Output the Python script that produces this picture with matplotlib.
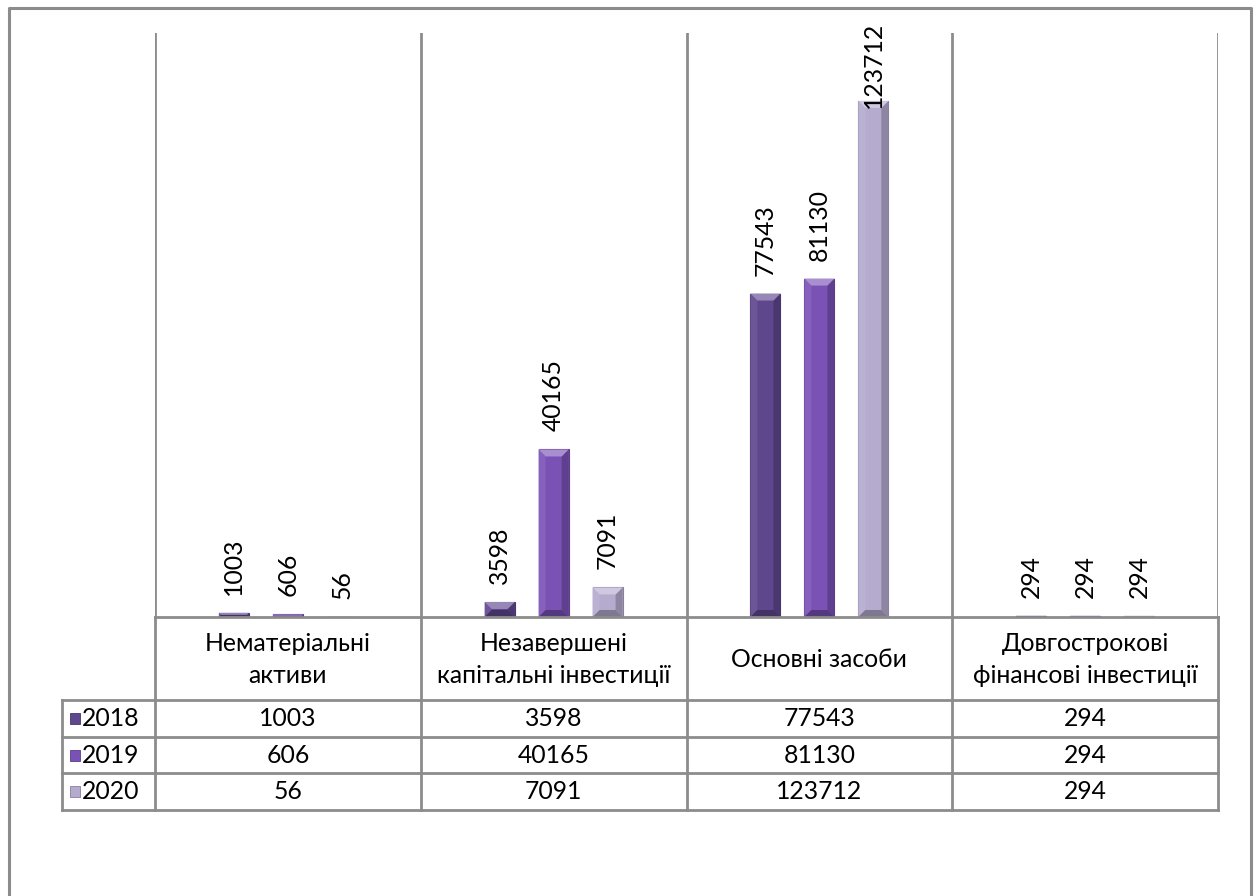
import numpy as np
import matplotlib.pyplot as plt
from matplotlib.patches import Polygon, Rectangle
from matplotlib.lines import Line2D
from matplotlib.colors import to_rgb

categories = ['Нематеріальні\nактиви', 'Незавершені\nкапітальні інвестиції',
              'Основні засоби', 'Довгострокові\nфінансові інвестиції']
years = ['2018', '2019', '2020']
v2018 = [1003, 3598, 77543, 294]
v2019 = [606, 40165, 81130, 294]
v2020 = [56, 7091, 123712, 294]
series = [v2018, v2019, v2020]
colors = ['#5f478e', '#7a52b6', '#b5abcf']

plt.rcParams['font.family'] = ['Lato', 'Open Sans', 'DejaVu Sans']
fs = 17.8

W, H = 1256, 896
fig = plt.figure(figsize=(W / 100, H / 100), dpi=100)


def px_rect(x0, y0, x1, y1):
    # pixel box (top-left origin) -> figure fraction
    return [x0 / W, 1 - y1 / H, (x1 - x0) / W, (y1 - y0) / H]


grid_c = '#8c8c8c'
ymax = 140000
plot_h = 617 - 33

ax = fig.add_axes(px_rect(155, 33, 1218, 617))
ax.set_xlim(-0.5, 3.5)
ax.set_ylim(0, ymax)
ax.axis('off')

n = len(categories)
for k in range(n + 1):
    ax.axvline(k - 0.5, color=grid_c, lw=2, zorder=0)


def shade(c, f):
    r = np.array(to_rgb(c))
    if f >= 1:
        return tuple(r + (1 - r) * (f - 1))
    return tuple(r * f)


bw = 0.113
offs = [-0.203, 0.0, 0.203]
# bevel depth: ~7 px
bx = 7 / 265.75
by = 7 * ymax / plot_h

for s, vals in enumerate(series):
    for i, v in enumerate(vals):
        xc = i + offs[s]
        x0, x1 = xc - bw / 2, xc + bw / 2
        c = colors[s]
        ax.add_patch(Rectangle((x0, 0), bw, v, facecolor=c,
                               edgecolor=shade(c, 0.75), lw=0.8, zorder=2))
        d = min(by, v / 2)
        e = bx * d / by
        # left / right sides
        ax.add_patch(Polygon([(x0, 0), (x0 + e, d), (x0 + e, v - d), (x0, v)],
                             closed=True, facecolor=shade(c, 1.08), lw=0, zorder=3))
        ax.add_patch(Polygon([(x1, 0), (x1 - e, d), (x1 - e, v - d), (x1, v)],
                             closed=True, facecolor=shade(c, 0.78), lw=0, zorder=3))
        # top cap
        ax.add_patch(Polygon([(x0, v), (x1, v), (x1 - e, v - d), (x0 + e, v - d)],
                             closed=True, facecolor=shade(c, 1.35), lw=0, zorder=3))
        # bottom
        ax.add_patch(Polygon([(x0, 0), (x1, 0), (x1 - e, d), (x0 + e, d)],
                             closed=True, facecolor=shade(c, 0.7), lw=0, zorder=3))
        # label sits ~18 px above the bar, pushed down if it would leave the plot
        room = (ymax - v) / ymax * plot_h
        gap = min(18, room - 12.5 * len(str(v)))
        ax.annotate(str(v), (xc, v), xytext=(0, gap * 0.72), textcoords='offset points',
                    rotation=90, ha='center', va='bottom', fontsize=fs,
                    color='black', annotation_clip=False, zorder=4)

# data table
tb = fig.add_axes(px_rect(155, 617, 1218, 810))
tb.set_xlim(-0.5, 3.5)
tb.set_ylim(810, 617)
tb.axis('off')

rows_y = [617, 700, 737, 773, 810]
xl = -0.5 - 93 / 265.75
lk = dict(color=grid_c, lw=2, clip_on=False, solid_capstyle='projecting')
tb.plot([-0.5, 3.5], [617, 617], **lk)
for y in rows_y[1:]:
    tb.plot([xl, 3.5], [y, y], **lk)
for k in range(n + 1):
    tb.plot([k - 0.5, k - 0.5], [617, 810], **lk)
tb.plot([xl, xl], [700, 810], **lk)

for i, cat in enumerate(categories):
    tb.text(i, 659.5, cat, ha='center', va='center', fontsize=fs,
            linespacing=1.5, clip_on=False)

for s, vals in enumerate(series):
    yc = (rows_y[s + 1] + rows_y[s + 2]) / 2
    for i, v in enumerate(vals):
        tb.text(i, yc, str(v), ha='center', va='center', fontsize=fs)
    mx = -0.5 - (155 - 70) / 265.75
    mw = 10 / 265.75
    tb.add_patch(Rectangle((mx, yc + 5.5), mw, -11, facecolor=colors[s],
                           edgecolor=shade(colors[s], 0.75), lw=0.6, clip_on=False))
    tb.text(-0.5 - (155 - 82) / 265.75, yc, years[s], ha='left', va='center',
            fontsize=fs, clip_on=False)

# outer chart border (left, top, right)
bc = '#8c8c8c'
fig.add_artist(Line2D([9 / W, 9 / W, 1251 / W, 1251 / W],
                      [0, 1 - 8 / H, 1 - 8 / H, 0], color=bc, lw=2.2))

fig.savefig('out.png', dpi=100, facecolor='white')
